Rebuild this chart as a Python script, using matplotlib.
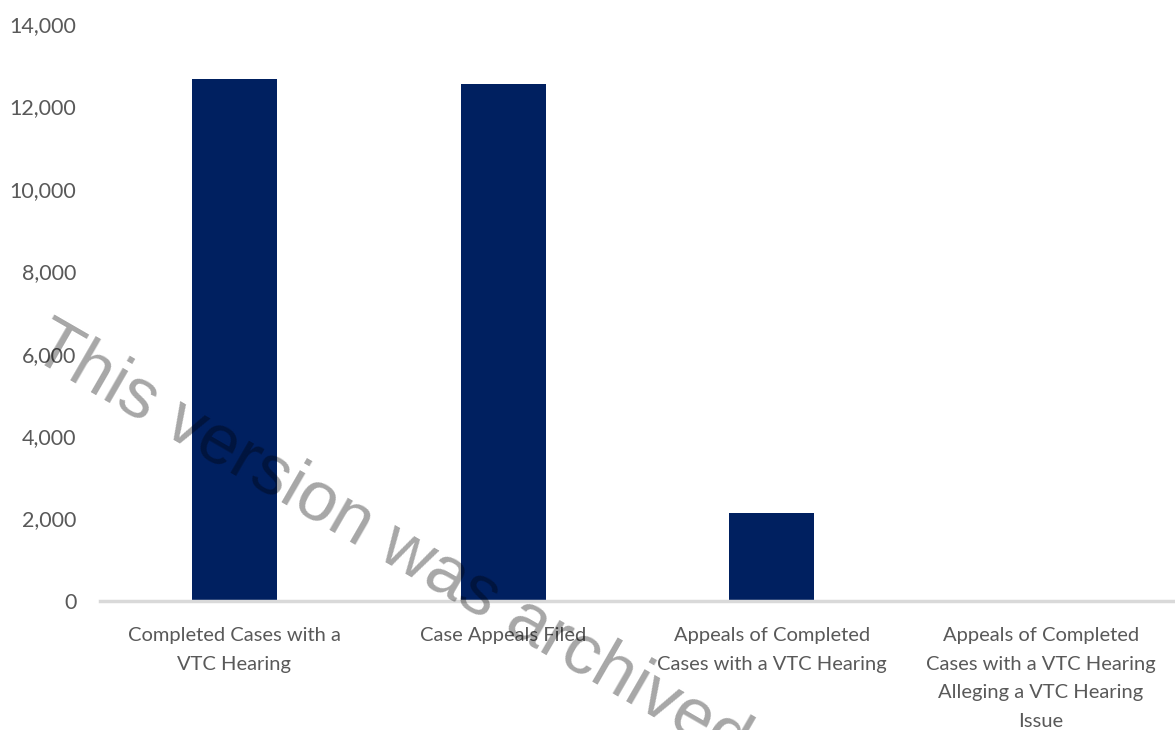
import numpy as np
import matplotlib
matplotlib.use('Agg')
import matplotlib.pyplot as plt
from matplotlib.ticker import FuncFormatter

# Data
categories = ['Completed Cases with a\nVTC Hearing',
              'Case Appeals Filed',
              'Appeals of Completed\nCases with a VTC Hearing',
              'Appeals of Completed\nCases with a VTC Hearing\nAlleging a VTC Hearing\nIssue']
values = [12670, 12550, 2130, 3]

bar_color = '#002060'
text_color = '#595959'
axis_color = '#d9d9d9'

plt.rcParams['font.family'] = ['Lato', 'DejaVu Sans']

fig = plt.figure(figsize=(11.75, 7.3), dpi=100)
ax = fig.add_axes([100 / 1175, 1 - 601 / 730, 1 - 100 / 1175, (601 - 24) / 730])

x = np.arange(len(categories))
ax.bar(x, values, width=0.316, color=bar_color, zorder=2)

ax.set_xlim(-0.5, len(categories) - 0.5)
ax.set_ylim(0, 14000)
ax.set_yticks(np.arange(0, 14001, 2000))
ax.yaxis.set_major_formatter(FuncFormatter(lambda v, p: f'{int(v):,}'))
ax.set_xticks(x)
ax.set_xticklabels(categories, linespacing=1.85, fontsize=14.5)

for s in ['top', 'right', 'left']:
    ax.spines[s].set_visible(False)
ax.spines['bottom'].set_color(axis_color)
ax.spines['bottom'].set_linewidth(2.5)
ax.tick_params(axis='both', length=0, colors=text_color)
ax.tick_params(axis='y', pad=17, labelsize=15.5)
ax.tick_params(axis='x', pad=18.5)

# watermark
fig.text(28 / 1175, 1 - 356 / 730, 'This version was archived',
         family='Liberation Sans', fontsize=51, color='black', alpha=0.35,
         rotation=-30, rotation_mode='anchor', ha='left', va='baseline',
         zorder=10)

fig.savefig('out.png', dpi=100)
